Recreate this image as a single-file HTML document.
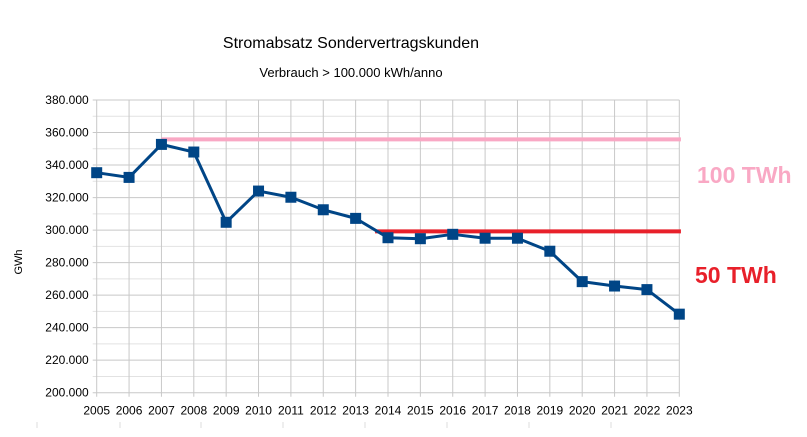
<!DOCTYPE html>
<html><head><meta charset="utf-8"><style>
body{margin:0;background:#fff;font-family:"Liberation Sans",sans-serif}
svg text{font-family:"Liberation Sans",sans-serif}
</style></head><body>
<svg width="807" height="432">
<g id="grid"></g>
<g id="axes"></g>
<g id="refs"></g>
<g id="series"></g>
<text x="351" y="48" font-size="16" text-anchor="middle" fill="#000">Stromabsatz Sondervertragskunden</text>
<text x="351" y="77" font-size="13" text-anchor="middle" fill="#000">Verbrauch &gt; 100.000 kWh/anno</text>
<text x="22" y="262" font-size="11" text-anchor="middle" transform="rotate(-90 22 262)">GWh</text>
<text x="697" y="183" font-size="23" font-weight="bold" fill="#f9a8c4">100 TWh</text>
<text x="695" y="283" font-size="23" font-weight="bold" fill="#e8202a">50 TWh</text>
</svg>
<script>
const years=[2005,2006,2007,2008,2009,2010,2011,2012,2013,2014,2015,2016,2017,2018,2019,2020,2021,2022,2023];
const values=[335.3,332.4,352.7,348,304.8,324,320.2,312.5,307.2,295.3,294.7,297.4,295,295,287,268.3,265.6,263.4,248.3];
const yTicks=[200,220,240,260,280,300,320,340,360,380];
const yTickLabels=["200.000","220.000","240.000","260.000","280.000","300.000","320.000","340.000","360.000","380.000"];
const refValues=[355.8,299.2];
const refStart=[2007,2013.6];
const refEnd=[2023.05,2023.05];
const refColors=["#f9a8c4","#e8202a"];
const NS="http://www.w3.org/2000/svg";
const x0=96.7,x1=679.3,yTop=100,yBot=392.7;
const X=v=>x0+(v-2005)/(2023-2005)*(x1-x0);
const Y=v=>yBot-(v-200)/(380-200)*(yBot-yTop);
function mk(tag,parent,attrs){const e=document.createElementNS(NS,tag);for(const k in attrs)e.setAttribute(k,attrs[k]);parent.appendChild(e);return e;}
const grid=document.getElementById('grid'),axes=document.getElementById('axes'),refs=document.getElementById('refs'),series=document.getElementById('series');
for(let v=200;v<=380;v+=10){const l=mk('line',grid,{x1:x0-4,x2:x1,y1:Y(v),y2:Y(v),stroke:v%20===0?'#c8c8c8':'#e2e2e2','stroke-width':1});

}
years.forEach(yr=>{const l=mk('line',grid,{x1:X(yr),x2:X(yr),y1:yTop,y2:yBot+4,stroke:'#c8c8c8','stroke-width':1});


const t=mk('text',axes,{x:X(yr),y:yBot+22,'font-size':12,'text-anchor':'middle'});t.textContent=yr;

});
yTicks.forEach((v,i)=>{const t=mk('text',axes,{x:x0-8,y:Y(v)+4,'font-size':12,'text-anchor':'end'});t.textContent=yTickLabels[i];

});
refValues.forEach((v,i)=>{const l=mk('line',refs,{x1:X(refStart[i]),x2:X(refEnd[i]),y1:Y(v),y2:Y(v),stroke:refColors[i],'stroke-width':4});

});
const p=mk('polyline',series,{points:years.map((y,i)=>X(y)+','+Y(values[i])).join(' '),fill:'none',stroke:'#004586','stroke-width':3,'stroke-linejoin':'round'});


years.forEach((y,i)=>{const r=mk('rect',series,{x:X(y)-5.5,y:Y(values[i])-5.5,width:11,height:11,fill:'#004586'});

});
[37,120,201,283,365,447,529,611].forEach(x=>{const l=mk('line',axes,{x1:x,x2:x,y1:422,y2:428,stroke:'#ddd'});

});
</script>
</body></html>
